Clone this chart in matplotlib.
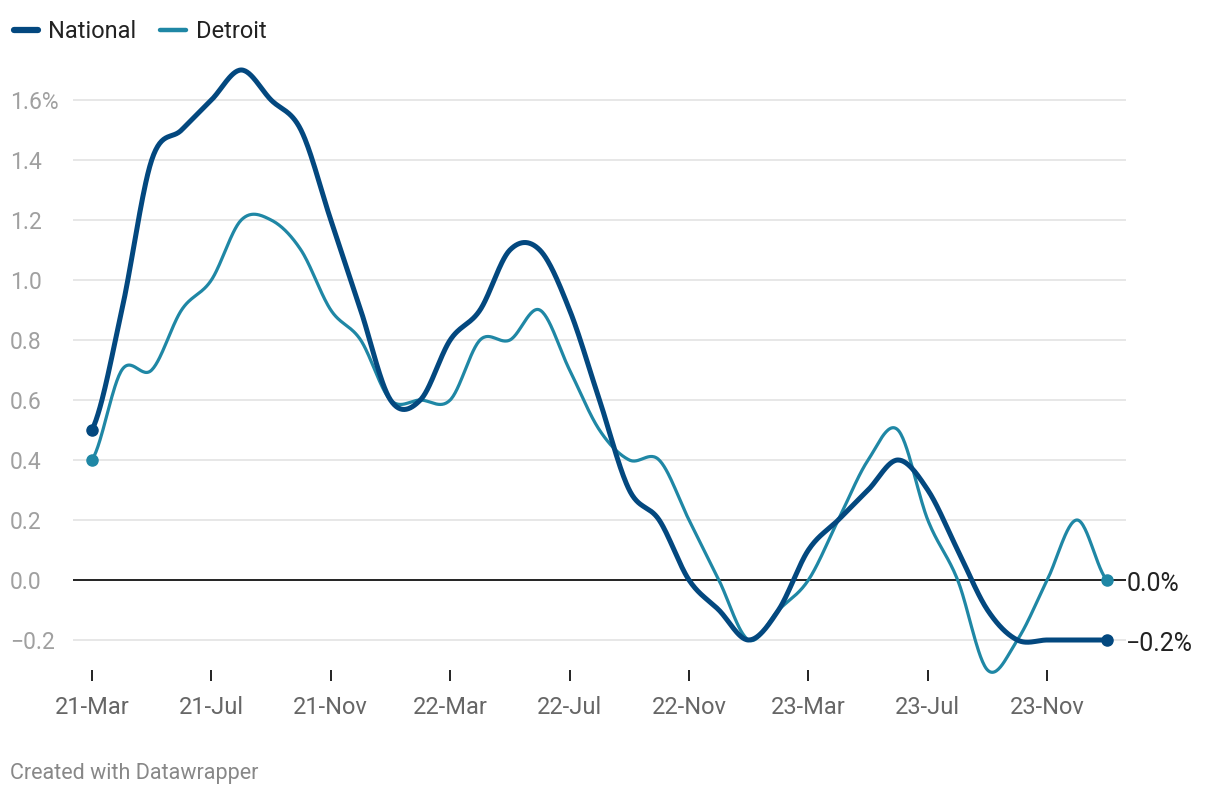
import numpy as np
import pandas as pd
import matplotlib
matplotlib.use('Agg')
import matplotlib.pyplot as plt
from matplotlib.lines import Line2D

plt.rcParams['font.family'] = ['Roboto', 'DejaVu Sans']

# 月度数据 21-Mar ~ 24-Jan
months = pd.date_range('2021-03-01', periods=35, freq='MS').strftime('%y-%b').tolist()
national = [0.5, 0.9, 1.4, 1.5, 1.6, 1.7, 1.6, 1.5, 1.2, 0.9,
            0.6, 0.6, 0.8, 0.9, 1.1, 1.1, 0.9, 0.6, 0.3, 0.2,
            0.0, -0.1, -0.2, -0.1, 0.1, 0.2, 0.3, 0.4, 0.3, 0.1,
            -0.1, -0.2, -0.2, -0.2, -0.2]
detroit = [0.4, 0.7, 0.7, 0.9, 1.0, 1.2, 1.2, 1.1, 0.9, 0.8,
           0.6, 0.6, 0.6, 0.8, 0.8, 0.9, 0.7, 0.5, 0.4, 0.4,
           0.2, 0.0, -0.2, -0.1, 0.0, 0.2, 0.4, 0.5, 0.2, 0.0,
           -0.3, -0.2, 0.0, 0.2, 0.0]
yticks = [-0.2, 0.0, 0.2, 0.4, 0.6, 0.8, 1.0, 1.2, 1.4, 1.6]
ylabels = ['\u22120.2', '0.0', '0.2', '0.4', '0.6', '0.8', '1.0', '1.2', '1.4', '1.6%']

c_nat = '#03487f'
c_det = '#1f87a5'


def smooth(y, n=30):
    # Catmull-Rom 样条平滑
    y = np.asarray(y, dtype=float)
    p = np.concatenate([[y[0]], y, [y[-1]]])
    xs, ys = [], []
    for i in range(len(y) - 1):
        p0, p1, p2, p3 = p[i], p[i + 1], p[i + 2], p[i + 3]
        m1 = (p2 - p0) / 2
        m2 = (p3 - p1) / 2
        t = np.linspace(0, 1, n, endpoint=False)
        h00 = 2 * t**3 - 3 * t**2 + 1
        h10 = t**3 - 2 * t**2 + t
        h01 = -2 * t**3 + 3 * t**2
        h11 = t**3 - t**2
        xs.append(i + t)
        ys.append(h00 * p1 + h10 * m1 + h01 * p2 + h11 * m2)
    xs.append([len(y) - 1])
    ys.append([y[-1]])
    return np.concatenate(xs), np.concatenate(ys)


fig = plt.figure(figsize=(12.2, 7.96), dpi=100)
ax = fig.add_axes([73 / 1220, 1 - 670 / 796, (1126 - 73) / 1220, (670 - 55) / 796])

x = np.arange(len(months))
ax.set_xlim((73 - 92) / 29.85, (1126 - 92) / 29.85)
ax.set_ylim(-0.3, 1.75)

for v in yticks:
    if v == 0:
        ax.axhline(v, color='#111111', lw=1.3, zorder=2)
    else:
        ax.axhline(v, color='#e3e3e3', lw=1.2, zorder=1)

sx, sy = smooth(detroit)
ax.plot(sx, sy, color=c_det, lw=2.3, zorder=3, clip_on=False, solid_capstyle='round')
ax.plot([x[0], x[-1]], [detroit[0], detroit[-1]], 'o', color=c_det, ms=8, zorder=3, clip_on=False)
sx, sy = smooth(national)
ax.plot(sx, sy, color=c_nat, lw=3.6, zorder=4, clip_on=False, solid_capstyle='round')
ax.plot([x[0], x[-1]], [national[0], national[-1]], 'o', color=c_nat, ms=8, zorder=4, clip_on=False)

for s in ax.spines.values():
    s.set_visible(False)

ax.set_xticks(x[::4])
ax.set_xticklabels(months[::4], fontsize=17, color='#666666')
ax.tick_params(axis='x', length=8, width=1.4, color='#222222', pad=11)
ax.set_yticks(yticks)
ax.set_yticklabels(ylabels, fontsize=16.5, color='#a0a0a0', ha='left')
ax.tick_params(axis='y', length=0, pad=63 / 1.389)

# 右侧末端标签
ax.annotate('0.0%', (x[-1], detroit[-1]), xytext=(14, -3), textcoords='offset points',
            fontsize=18, color='#222222', va='center', ha='left')
ax.annotate('\u22120.2%', (x[-1], national[-1]), xytext=(14, -3), textcoords='offset points',
            fontsize=18, color='#222222', va='center', ha='left')

# 图例
fig.add_artist(Line2D([14 / 1220, 38 / 1220], [1 - 30 / 796] * 2, color=c_nat, lw=4.5,
                      solid_capstyle='round'))
fig.text(48 / 1220, 1 - 31 / 796, 'National', fontsize=17, color='#222222', va='center')
fig.add_artist(Line2D([160 / 1220, 186 / 1220], [1 - 30 / 796] * 2, color=c_det, lw=3.2,
                      solid_capstyle='round'))
fig.text(196 / 1220, 1 - 31 / 796, 'Detroit', fontsize=17, color='#222222', va='center')

fig.text(10 / 1220, 1 - 773 / 796, 'Created with Datawrapper', fontsize=15.5, color='#888888', va='center')

fig.savefig('out.png', dpi=100)
